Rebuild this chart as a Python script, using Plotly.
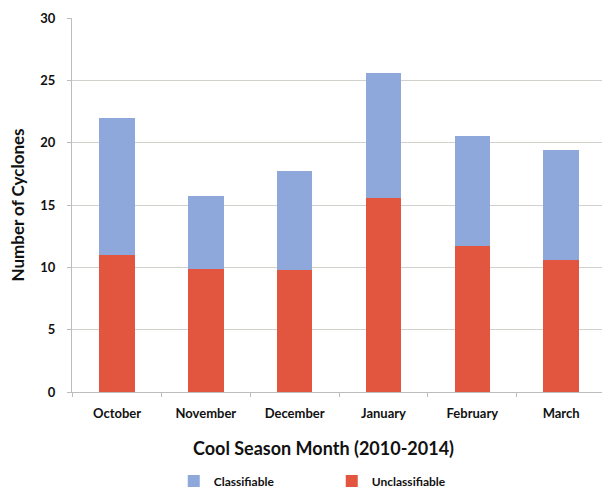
import plotly.graph_objects as go

months = ["October", "November", "December", "January", "February", "March"]
unclassifiable = [11.0, 9.9, 9.8, 15.6, 11.7, 10.6]
classifiable = [11.0, 5.8, 7.9, 10.0, 8.8, 8.8]
y_ticks = [0, 5, 10, 15, 20, 25, 30]

FONT = "Lato"
BLUE = "#8FA8DC"
RED = "#E2553F"

fig = go.Figure()
fig.add_trace(go.Bar(x=months, y=unclassifiable, name="Unclassifiable",
                     marker=dict(color=RED, line=dict(width=0))))
fig.add_trace(go.Bar(x=months, y=classifiable, name="Classifiable",
                     marker=dict(color=BLUE, line=dict(width=0))))

fig.update_layout(
    width=602, height=490,
    margin=dict(l=72, r=0, t=18, b=98, autoexpand=False),
    barmode="stack", bargap=0.6,
    paper_bgcolor="white", plot_bgcolor="white",
    font=dict(family=FONT, color="#111111"),
    showlegend=True,
    legend=dict(orientation="h", traceorder="reversed",
                x=0.192, xanchor="left", y=-0.238, yanchor="middle",
                entrywidth=113, entrywidthmode="pixels",
                font=dict(family=FONT, size=12, color="#111111", weight="bold"),
                itemwidth=30),
    annotations=[dict(text="Cool Season Month (2010-2014)", xref="paper", yref="paper",
                      x=(323 - 72) / 530, y=-(448 - 392) / 374, xanchor="center", yanchor="middle",
                      showarrow=False, font=dict(family=FONT, size=18, weight="bold", color="#111111"))],
)
fig.update_xaxes(
    range=[-0.507, 5.46],
    tickfont=dict(family=FONT, size=13, weight="bold"),
    showline=True, linecolor="#bdbdbd", linewidth=1,
    ticks="outside", ticklen=4, tickcolor="#bdbdbd", tickson="boundaries",
    ticklabelstandoff=9,
)
fig.update_yaxes(
    range=[0, 30], tickvals=y_ticks,
    tickfont=dict(family=FONT, size=13, weight="bold"),
    showgrid=True, gridcolor="#d4d0cc", gridwidth=1,
    showline=True, linecolor="#bdbdbd", linewidth=1,
    ticks="outside", ticklen=4, tickcolor="#bdbdbd",
    ticklabelstandoff=9,
    zeroline=False,
    title=dict(text="Number of Cyclones",
               font=dict(family=FONT, size=17, weight="bold"), standoff=11),
)

fig.write_html("out.html")
